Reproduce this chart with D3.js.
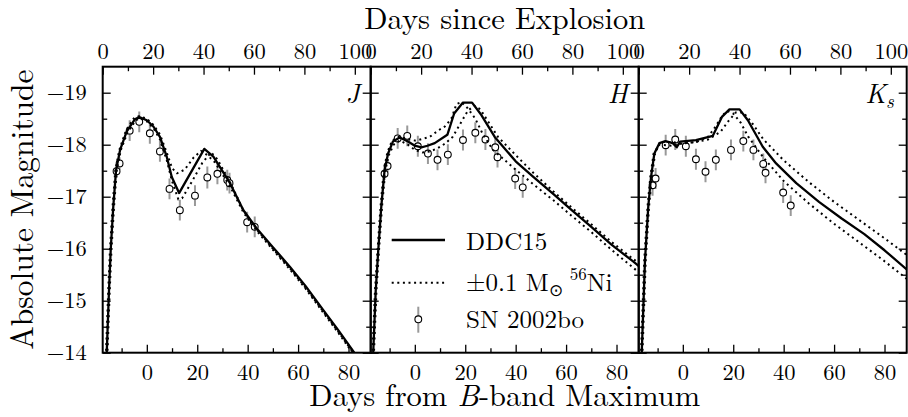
<!DOCTYPE html>
<html><head><meta charset="utf-8">
<script src="https://cdn.jsdelivr.net/npm/d3@7"></script>
<style>
html,body{margin:0;padding:0;background:#fff;}
svg{display:block;}
</style></head><body>
<svg id="chart" width="908" height="417"></svg>
<script>
// ---------- tick values ----------
const xMajorTicks = [0, 20, 40, 60, 80];
const xMinorTicks = [-10, 10, 30, 50, 70];
const topMajorTicks = [0, 20, 40, 60, 80, 100];
const topMinorTicks = [10, 30, 50, 70, 90];
const yMajorTicks = [-19, -18, -17, -16, -15, -14];
const yMinorTicks = [-18.5, -17.5, -16.5, -15.5, -14.5];

// ---------- SN 2002bo observations (days from B max) ----------
const obsDays = [-12.0, -10.8, -6.8, -3.0, 1.2, 5.2, 9.0, 13.1, 19.1, 24.0, 28.0, 31.9, 32.8, 39.8, 42.8];
const obsJ  = [-17.49, -17.64, -18.27, -18.44, -18.22, -17.87, -17.15, -16.74, -17.02, -17.37, -17.44, -17.32, -17.26, -16.51, -16.42];
const obsH  = [-17.44, -17.59, -18.12, -18.17, -17.97, -17.83, -17.71, -17.81, -18.09, -18.23, -18.10, -17.95, -17.76, -17.35, -17.18];
const obsKs = [-17.22, -17.35, -17.99, -18.10, -17.97, -17.72, -17.48, -17.71, -17.90, -18.07, -17.90, -17.63, -17.46, -17.08, -16.83];
const errJ  = [0.12, 0.12, 0.2, 0.2, 0.2, 0.2, 0.2, 0.2, 0.2, 0.21, 0.2, 0.2, 0.2, 0.2, 0.2];
const errH  = [0.12, 0.12, 0.2, 0.2, 0.2, 0.2, 0.2, 0.2, 0.2, 0.2, 0.2, 0.2, 0.2, 0.2, 0.2];
const errKs = [0.2, 0.2, 0.2, 0.2, 0.2, 0.2, 0.2, 0.2, 0.2, 0.2, 0.2, 0.2, 0.2, 0.2, 0.2];

// ---------- DDC15 model, J ----------
const modelDaysJ = [-16.3, -15.9, -15.0, -14.3, -13.3, -12.2, -10.6, -8.0, -4.7, -3.0, 0.0, 2.6, 5.2, 7.9, 9.9, 12.8, 22.8, 26.4, 33.0, 38.3, 43.6, 50.0, 56.8, 63.0, 70.0, 76.0, 82.0, 86.0];
const modelJ     = [-13.5, -14.0, -15.2, -16.0, -16.81, -17.51, -17.9, -18.25, -18.49, -18.53, -18.47, -18.35, -18.15, -17.77, -17.38, -17.07, -17.92, -17.77, -17.26, -16.74, -16.39, -16.03, -15.65, -15.28, -14.82, -14.43, -14.02, -13.75];
const loDaysJ = [-16.6, -16.2, -15.3, -14.6, -13.6, -12.5, -10.9, -8.3, -5.0, -3.0, 0.0, 2.6, 5.2, 7.9, 10.0, 12.0, 15.0, 18.5, 21.5, 24.0, 27.0, 33.0, 38.3, 43.6, 50.0, 56.8, 63.0, 70.0, 76.0, 82.0, 86.0];
const loJ     = [-13.5, -14.0, -15.2, -16.0, -16.81, -17.51, -17.9, -18.27, -18.52, -18.55, -18.5, -18.38, -18.2, -17.85, -17.55, -17.45, -17.52, -17.75, -17.88, -17.8, -17.66, -17.2, -16.7, -16.34, -15.98, -15.6, -15.23, -14.77, -14.38, -13.97, -13.7];
const hiDaysJ = [-16.0, -15.6, -14.7, -14.0, -13.0, -11.9, -10.3, -7.7, -4.4, -2.7, 0.0, 2.6, 5.2, 7.9, 10.0, 12.5, 14.0, 18.0, 22.0, 25.5, 28.0, 33.0, 38.3, 43.6, 50.0, 56.8, 63.0, 70.0, 76.0, 82.0, 86.0];
const hiJ     = [-13.5, -14.0, -15.2, -16.0, -16.81, -17.51, -17.9, -18.23, -18.47, -18.51, -18.45, -18.32, -18.1, -17.7, -17.3, -16.95, -16.97, -17.3, -17.65, -17.85, -17.72, -17.28, -16.74, -16.37, -16.0, -15.62, -15.25, -14.79, -14.4, -13.99, -13.72];

// ---------- DDC15 model, H ----------
const modelDaysH = [-16.9, -16.5, -15.5, -14.5, -13.3, -12.0, -10.6, -8.7, -6.0, -2.7, 0.0, 2.6, 5.0, 7.9, 12.9, 15.6, 19.1, 22.7, 26.4, 31.7, 40.0, 47.0, 55.0, 62.0, 70.0, 78.0, 86.7, 90.0];
const modelH     = [-13.5, -14.0, -15.2, -15.97, -16.81, -17.51, -17.83, -18.06, -18.14, -18.06, -17.98, -17.95, -17.98, -18.03, -18.19, -18.6, -18.81, -18.81, -18.57, -18.15, -17.68, -17.38, -17.05, -16.75, -16.42, -16.08, -15.75, -15.62];
const loDaysH = [-17.2, -16.8, -15.8, -14.8, -13.6, -12.3, -10.9, -9.0, -6.0, -2.7, 0.0, 1.3, 5.9, 9.2, 11.9, 14.5, 16.5, 18.5, 21.0, 24.0, 27.0, 31.0, 40.0, 47.0, 55.0, 62.0, 70.0, 78.0, 86.7, 90.0];
const loH     = [-13.5, -14.0, -15.2, -15.97, -16.81, -17.51, -17.85, -18.08, -18.16, -18.1, -18.08, -18.09, -18.15, -18.27, -18.35, -18.5, -18.78, -18.82, -18.7, -18.5, -18.2, -17.9, -17.52, -17.24, -16.93, -16.64, -16.32, -15.98, -15.63, -15.5];
const hiDaysH = [-16.6, -16.2, -15.2, -14.2, -13.0, -11.7, -10.3, -8.4, -6.0, -2.7, 0.0, 3.0, 6.0, 9.0, 12.0, 15.0, 18.0, 21.0, 23.5, 26.0, 29.0, 33.0, 40.0, 47.0, 55.0, 62.0, 70.0, 78.0, 86.7, 90.0];
const hiH     = [-13.5, -14.0, -15.2, -15.97, -16.81, -17.51, -17.8, -18.0, -18.08, -18.0, -17.9, -17.85, -17.87, -17.93, -18.02, -18.15, -18.4, -18.65, -18.75, -18.68, -18.45, -18.15, -17.8, -17.46, -17.1, -16.8, -16.47, -16.13, -15.8, -15.68];

// ---------- DDC15 model, Ks ----------
const modelDaysKs = [-16.8, -16.3, -15.0, -13.7, -12.6, -11.3, -9.3, -6.9, -4.0, -2.4, -1.1, 5.2, 11.9, 15.6, 18.5, 22.5, 25.8, 31.7, 37.0, 45.0, 54.0, 63.0, 72.0, 80.0, 88.8, 91.0];
const modelKs     = [-13.5, -14.0, -15.78, -16.81, -17.38, -17.83, -18.03, -18.07, -18.03, -17.95, -18.06, -18.09, -18.17, -18.54, -18.68, -18.68, -18.47, -17.96, -17.64, -17.26, -16.9, -16.58, -16.28, -15.97, -15.6, -15.52];
const loDaysKs = [-17.1, -16.6, -15.3, -14.0, -12.9, -11.6, -9.3, -4.0, -1.0, 5.0, 10.0, 13.0, 15.5, 17.5, 20.0, 23.0, 26.0, 32.0, 40.0, 50.0, 60.0, 70.0, 80.0, 88.8, 91.0];
const loKs     = [-13.5, -14.0, -15.78, -16.81, -17.38, -17.83, -18.0, -17.98, -18.02, -18.05, -18.15, -18.35, -18.55, -18.65, -18.6, -18.42, -18.15, -17.75, -17.3, -16.87, -16.48, -16.12, -15.76, -15.42, -15.35];
const hiDaysKs = [-16.5, -16.0, -14.7, -13.4, -12.3, -11.0, -9.0, -4.0, -1.0, 5.0, 10.0, 15.0, 18.0, 21.0, 24.0, 27.0, 32.0, 40.0, 50.0, 60.0, 70.0, 80.0, 88.8, 91.0];
const hiKs     = [-13.5, -14.0, -15.78, -16.81, -17.38, -17.83, -18.05, -18.05, -18.02, -18.05, -18.1, -18.25, -18.45, -18.62, -18.62, -18.45, -18.1, -17.7, -17.28, -16.9, -16.55, -16.2, -15.88, -15.8];

const zip = (a, b) => a.map((v, i) => [v, b[i]]);
const panels = [
  {label: "J",  sub: null, model: zip(modelDaysJ, modelJ),   lo: zip(loDaysJ, loJ),   hi: zip(hiDaysJ, hiJ),   obs: obsJ,  err: errJ},
  {label: "H",  sub: null, model: zip(modelDaysH, modelH),   lo: zip(loDaysH, loH),   hi: zip(hiDaysH, hiH),   obs: obsH,  err: errH},
  {label: "K",  sub: "s",  model: zip(modelDaysKs, modelKs), lo: zip(loDaysKs, loKs), hi: zip(hiDaysKs, hiKs), obs: obsKs, err: errKs}
];

// ---------- layout ----------
const svg = d3.select("#chart");
const W = 268, H = 286, left0 = 102.7, top0 = 66.7;
const x = d3.scaleLinear().domain([-17.5, 88.8]).range([0, W]);
const xTop = d3.scaleLinear().domain([0, 106.3]).range([0, W]);
const y = d3.scaleLinear().domain([-14, -19.5]).range([H, 0]);
const line = d3.line().x(d => x(d[0])).y(d => y(d[1]));
const FONT = "'Latin Modern Roman', 'Liberation Serif', serif";

function styleAxis(sel, fs) {
  sel.select(".domain").remove();
  sel.attr("font-family", null).attr("font-size", fs);
  sel.style("font-family", FONT);
  sel.selectAll(".tick line").attr("stroke", "#000").attr("stroke-width", 1.3);
  sel.selectAll(".tick text").attr("fill", "#000").style("font-family", FONT);
}
function txt(sel) { return sel.style("font-family", FONT); }

panels.forEach((p, i) => {
  const g = svg.append("g").attr("transform", `translate(${left0 + i * W},${top0})`);
  const cid = "clip" + i;
  g.append("clipPath").attr("id", cid).append("rect").attr("width", W).attr("height", H);

  // axes: bottom
  const ab = g.append("g").attr("transform", `translate(0,${H})`)
    .call(d3.axisBottom(x).tickValues(xMajorTicks).tickSizeInner(-8).tickSizeOuter(0).tickFormat(d3.format("d")));
  styleAxis(ab, 22.5);
  ab.selectAll(".tick text").attr("dy", null).attr("y", 27);
  const abm = g.append("g").attr("transform", `translate(0,${H})`)
    .call(d3.axisBottom(x).tickValues(xMinorTicks).tickSizeInner(-4.5).tickSizeOuter(0).tickFormat(""));
  styleAxis(abm, 22.5);
  // top
  const at = g.append("g")
    .call(d3.axisTop(xTop).tickValues(topMajorTicks).tickSizeInner(-8).tickSizeOuter(0).tickFormat(d3.format("d")));
  styleAxis(at, 22.5);
  at.selectAll(".tick text").attr("dy", null).attr("y", -8);
  const atm = g.append("g")
    .call(d3.axisTop(xTop).tickValues(topMinorTicks).tickSizeInner(-4.5).tickSizeOuter(0).tickFormat(""));
  styleAxis(atm, 22.5);
  // left
  const al = g.append("g")
    .call(d3.axisLeft(y).tickValues(yMajorTicks).tickSizeInner(-8).tickSizeOuter(0).tickPadding(16)
      .tickFormat(i === 0 ? d3.format("d") : ""));
  styleAxis(al, 22.5);
  const alm = g.append("g")
    .call(d3.axisLeft(y).tickValues(yMinorTicks).tickSizeInner(-4.5).tickSizeOuter(0).tickFormat(""));
  styleAxis(alm, 22.5);
  // right
  const ar = g.append("g").attr("transform", `translate(${W},0)`)
    .call(d3.axisRight(y).tickValues(yMajorTicks).tickSizeInner(-8).tickSizeOuter(0).tickFormat(""));
  styleAxis(ar, 22.5);
  const arm = g.append("g").attr("transform", `translate(${W},0)`)
    .call(d3.axisRight(y).tickValues(yMinorTicks).tickSizeInner(-4.5).tickSizeOuter(0).tickFormat(""));
  styleAxis(arm, 22.5);

  const plot = g.append("g").attr("clip-path", `url(#${cid})`);

  // observations: error bars + circles
  const obs = obsDays.map((d, k) => ({d, m: p.obs[k], e: p.err[k]}));
  plot.selectAll(".eb").data(obs).join("line")
    .attr("x1", d => x(d.d)).attr("x2", d => x(d.d))
    .attr("y1", d => y(d.m - d.e)).attr("y2", d => y(d.m + d.e))
    .attr("stroke", "#999").attr("stroke-width", 2);
  plot.selectAll(".pt").data(obs).join("circle")
    .attr("cx", d => x(d.d)).attr("cy", d => y(d.m)).attr("r", 3.4)
    .attr("fill", "#fff").attr("stroke", "#000").attr("stroke-width", 1.1);

  // model curves
  [p.lo, p.hi].forEach(c => plot.append("path").datum(c).attr("d", line)
    .attr("fill", "none").attr("stroke", "#000").attr("stroke-width", 2)
    .attr("stroke-dasharray", "2,3.6"));
  plot.append("path").datum(p.model).attr("d", line)
    .attr("fill", "none").attr("stroke", "#000").attr("stroke-width", 2.3)
    .attr("stroke-linejoin", "round");

  // frame
  g.append("rect").attr("width", W).attr("height", H)
    .attr("fill", "none").attr("stroke", "#000").attr("stroke-width", 2);

  // band label
  const t = txt(g.append("text")).attr("x", W - 11 - (i === 2 ? 2 : 0)).attr("y", 36.5)
    .attr("text-anchor", "end").attr("font-style", "italic")
    .attr("font-size", 27).text(p.label);
  if (p.sub) t.append("tspan").attr("font-size", 19).attr("dy", 5).text(p.sub);
});

// ---------- axis titles ----------
txt(svg.append("text")).attr("x", left0 + 1.5 * W).attr("y", 29).attr("text-anchor", "middle")
  .attr("font-size", 30.5).text("Days since Explosion");
const bt = txt(svg.append("text")).attr("x", left0 + 1.5 * W).attr("y", 405.5).attr("text-anchor", "middle")
  .attr("font-size", 30.5);
bt.append("tspan").text("Days from ");
bt.append("tspan").attr("font-style", "italic").text("B");
bt.append("tspan").text("-band Maximum");
txt(svg.append("text")).attr("transform", `translate(33,${top0 + H / 2}) rotate(-90)`).attr("text-anchor", "middle")
  .attr("font-size", 31.5).text("Absolute Magnitude");

// ---------- legend (in H panel) ----------
const lg = svg.append("g").style("font-family", FONT).attr("font-size", 25);
lg.append("line").attr("x1", 391.7).attr("x2", 445).attr("y1", 240).attr("y2", 240)
  .attr("stroke", "#000").attr("stroke-width", 2.3);
lg.append("text").attr("x", 466).attr("y", 250).text("DDC15");
lg.append("line").attr("x1", 391.7).attr("x2", 445).attr("y1", 282.7).attr("y2", 282.7)
  .attr("stroke", "#000").attr("stroke-width", 2).attr("stroke-dasharray", "2,3.6");
const lt = lg.append("text").attr("x", 466).attr("y", 291);
lt.append("tspan").text("±0.1 M");
lt.append("tspan").attr("font-size", 17).attr("dy", 5).text("⊙");
lt.append("tspan").attr("font-size", 17).attr("dy", -16).attr("dx", 7).text("56");
lt.append("tspan").attr("dy", 11).text("Ni");
lg.append("line").attr("x1", 418.3).attr("x2", 418.3).attr("y1", 306.7).attr("y2", 332.7)
  .attr("stroke", "#999").attr("stroke-width", 2);
lg.append("circle").attr("cx", 418.3).attr("cy", 319.3).attr("r", 3.4)
  .attr("fill", "#fff").attr("stroke", "#000").attr("stroke-width", 1.1);
lg.append("text").attr("x", 466).attr("y", 328).text("SN 2002bo");
</script></body></html>
